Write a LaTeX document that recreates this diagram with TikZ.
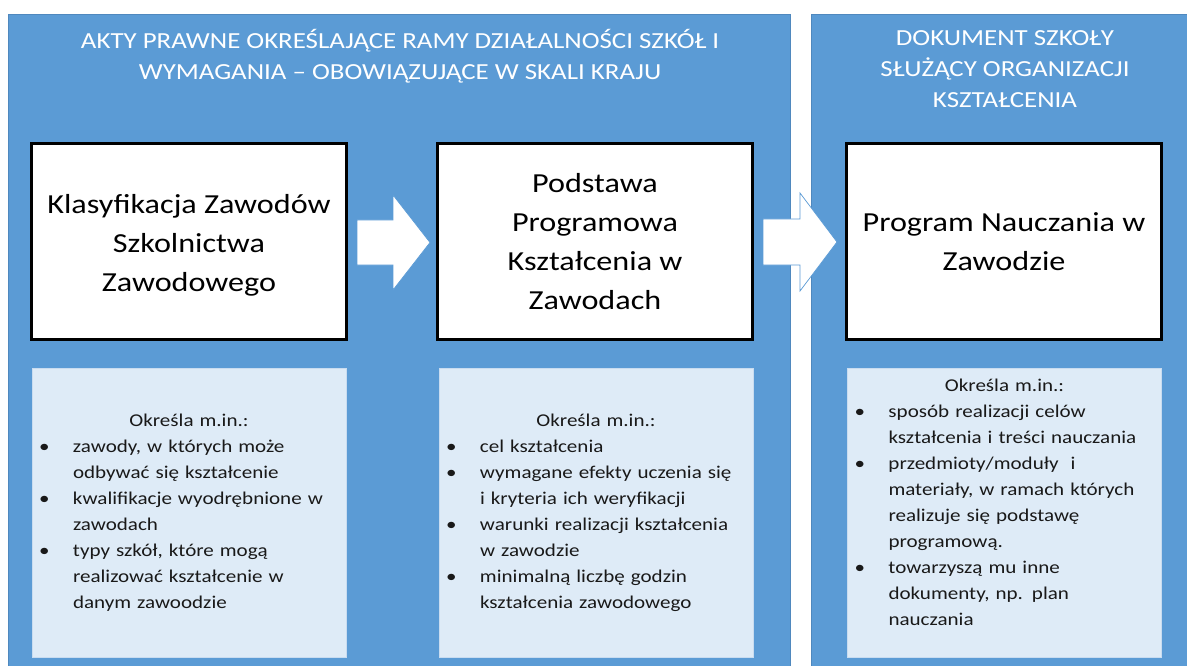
\documentclass[tikz,border=0pt]{standalone}
\usepackage{fontspec}
\setmainfont{Carlito}[FakeStretch=1.17]
\definecolor{panelblue}{HTML}{5B9BD5}
\definecolor{paneledge}{HTML}{4F88BE}
\definecolor{lightfill}{HTML}{DEEBF7}
\definecolor{lightedge}{HTML}{C9DCF0}
\newcommand\myitem{\makebox[34pt][l]{•}}
\newcommand\mycont{\hspace*{34pt}}
\tikzset{
  panel/.style={draw=paneledge, line width=0.6pt, fill=panelblue, anchor=north west, inner sep=0pt},
  header/.style={text=white, align=center, font=\fontsize{23}{31}\selectfont, inner sep=0pt},
  bigbox/.style={draw=black, line width=3pt, fill=white, minimum width=315pt, minimum height=195pt,
    align=center, font=\fontsize{27.5}{39}\selectfont, inner sep=0pt},
  lbox/.style={draw=lightedge, line width=0.6pt, fill=lightfill, minimum width=314pt, minimum height=289pt, inner sep=0pt},
  ltext/.style={text width=300pt, align=left, font=\fontsize{18}{26}\selectfont, inner sep=0pt, text=black!90},
  blockarrow/.style={fill=white, draw=panelblue, line width=0.7pt, line join=miter}
}
\begin{document}
\begin{tikzpicture}[x=1pt,y=-1pt]
\useasboundingbox (0,0) rectangle (1187,666);
\fill[white] (0,0) rectangle (1187,666);
% panels
\node[panel, minimum width=782pt, minimum height=654pt] (P1) at (8,14) {};
\node[panel, minimum width=378pt, minimum height=654pt] (P2) at (811,14) {};
% headers
\node[header] (H1) at (400,56) {AKTY PRAWNE OKREŚLAJĄCE RAMY DZIAŁALNOŚCI SZKÓŁ I\\WYMAGANIA – OBOWIĄZUJĄCE W SKALI KRAJU};
\node[header] (H2) at (1005,69) {DOKUMENT SZKOŁY\\SŁUŻĄCY ORGANIZACJI\\KSZTAŁCENIA};
% big boxes
\node[bigbox] (B1) at (189,241.5) {\rule{0pt}{27.5pt}Klasyfikacja Zawodów\\Szkolnictwa\\Zawodowego};
\node[bigbox] (B2) at (595,241.5) {Podstawa\\Programowa\\Kształcenia w\\Zawodach};
\node[bigbox] (B3) at (1004,241.5) {Program Nauczania w\\Zawodzie};
% block arrows
\draw[blockarrow] (357,220) -- (393,220) -- (393,195) -- (430,242.5) -- (393,290) -- (393,265) -- (357,265) -- cycle;
\draw[blockarrow] (763,219) -- (800,219) -- (800,193) -- (837,242) -- (800,291) -- (800,265) -- (763,265) -- cycle;
% light boxes
\node[lbox] (L1) at (189,512.5) {};
\node[lbox] (L2) at (596,512.5) {};
\node[lbox] (L3) at (1004.5,512.5) {};
\node[ltext] (T1) at (L1.center) {\makebox[\hsize][c]{Określa m.in.:}\\
\myitem zawody, w których może\\
\mycont odbywać się kształcenie\\
\myitem kwalifikacje wyodrębnione w\\
\mycont zawodach\\
\myitem typy szkół, które mogą\\
\mycont realizować kształcenie w\\
\mycont danym zawoodzie};
\node[ltext] (T2) at (L2.center) {\makebox[\hsize][c]{Określa m.in.:}\\
\myitem cel kształcenia\\
\myitem wymagane efekty uczenia się\\
\mycont i kryteria ich weryfikacji\\
\myitem warunki realizacji kształcenia\\
\mycont w zawodzie\\
\myitem minimalną liczbę godzin\\
\mycont kształcenia zawodowego};
\node[ltext, yshift=10pt] (T3) at (L3.center) {\makebox[\hsize][c]{Określa m.in.:}\\
\myitem sposób realizacji celów\\
\mycont kształcenia i treści nauczania\\
\myitem przedmioty/moduły\ \ i\\
\mycont materiały, w ramach których\\
\mycont realizuje się podstawę\\
\mycont programową.\\
\myitem towarzyszą mu inne\\
\mycont dokumenty, np. plan\\
\mycont nauczania};
\end{tikzpicture}
\end{document}
